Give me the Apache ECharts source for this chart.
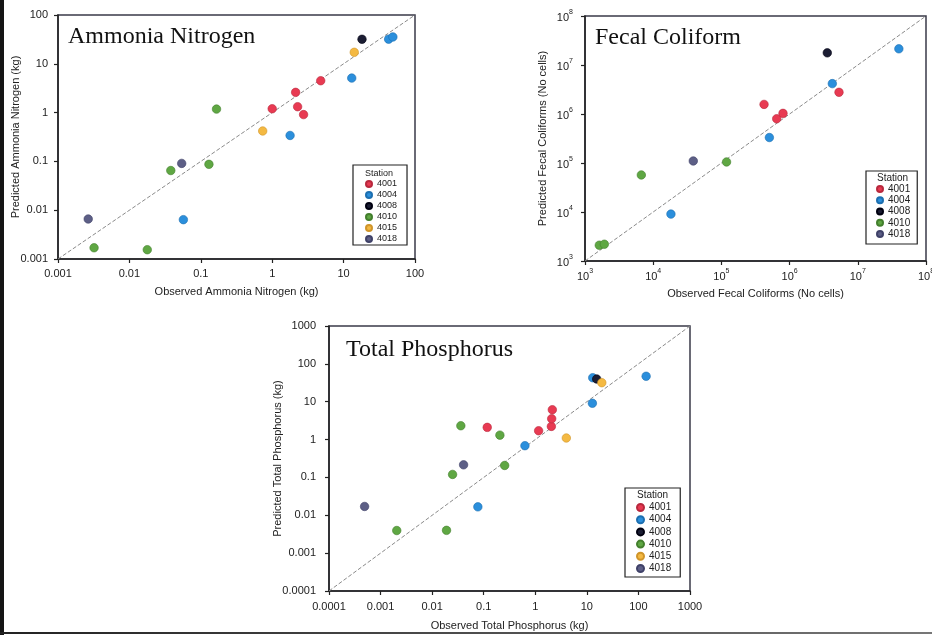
<!DOCTYPE html>
<html>
<head>
<meta charset="utf-8">
<script src="https://cdn.jsdelivr.net/npm/echarts@6/dist/echarts.min.js"></script>
<style>
  html, body { margin: 0; padding: 0; background: #ffffff; }
  #wrap { position: relative; width: 932px; height: 635px; overflow: hidden; }
  #chart { position: absolute; left: 0; top: 0; width: 932px; height: 635px; }
  .edge { position: absolute; pointer-events: none; }
  #edgeLeft { left: 0; top: 0; width: 4px; height: 635px; background: #151515; }
  #edgeBottom { left: 0; top: 632px; width: 932px; height: 2px; background: linear-gradient(to right, #222, #777); }
</style>
</head>
<body>
<div id="wrap">
  <div id="chart"></div>
  <div class="edge" id="edgeLeft"></div>
  <div class="edge" id="edgeBottom"></div>
</div>
<script>
// Stations and their marker colours
const stations = ['4001', '4004', '4008', '4010', '4015', '4018'];
const stationColors = ['#e83a52', '#2b8fdc', '#1b1d33', '#5fa743', '#f4b942', '#5d5f86'];
const stationEdges  = ['#b8283d', '#1c6fb0', '#000010', '#437f2d', '#d0952a', '#3f4168'];

// Ammonia Nitrogen (kg): [observed, predicted]
const ammonia4001 = [[1.0, 1.2], [2.13, 2.6], [2.27, 1.32], [2.75, 0.91], [4.78, 4.5]];
const ammonia4004 = [[0.057, 0.0064], [1.78, 0.34], [13, 5.1], [42.7, 32], [49, 35.5]];
const ammonia4008 = [[18.1, 31.8]];
const ammonia4010 = [[0.0032, 0.0017], [0.0178, 0.00155], [0.038, 0.065], [0.13, 0.087], [0.166, 1.18]];
const ammonia4015 = [[0.736, 0.42], [14.1, 17.2]];
const ammonia4018 = [[0.00265, 0.0066], [0.054, 0.091]];

// Fecal coliforms (No cells): [observed, predicted]
const fecal4001 = [[4.22e5, 1.57e6], [6.47e5, 8.0e5], [8.0e5, 1.03e6], [5.3e6, 2.77e6]];
const fecal4004 = [[1.82e4, 9.06e3], [5.05e5, 3.31e5], [4.23e6, 4.17e6], [4.0e7, 2.14e7]];
const fecal4008 = [[3.57e6, 1.77e7]];
const fecal4010 = [[1.62e3, 2.1e3], [1.92e3, 2.2e3], [6.7e3, 5.7e4], [1.19e5, 1.05e5]];
const fecal4018 = [[3.87e4, 1.1e5]];

// Total Phosphorus (kg): [observed, predicted]
const phos4001 = [[0.117, 2.1], [1.16, 1.71], [2.05, 2.23], [2.08, 3.55], [2.14, 6.14]];
const phos4004 = [[0.077, 0.0167], [0.63, 0.69], [12.8, 9.1], [13, 43], [141, 47]];
const phos4008 = [[15.5, 39.8]];
const phos4010 = [[0.00206, 0.00396], [0.019, 0.004], [0.0249, 0.12], [0.036, 2.32], [0.206, 1.31], [0.255, 0.207]];
const phos4015 = [[4.0, 1.1], [19.5, 31.8]];
const phos4018 = [[0.00049, 0.0171], [0.0407, 0.215]];

// Tick labels per decade
const ammoniaTicks = ['0.001', '0.01', '0.1', '1', '10', '100'];
const fecalExponents = ['3', '4', '5', '6', '7', '8'];
const phosTicks = ['0.0001', '0.001', '0.01', '0.1', '1', '10', '100', '1000'];

// Axis texts and panel titles
const panelTitles = ['Ammonia Nitrogen', 'Fecal Coliform', 'Total Phosphorus'];
const xNames = ['Observed Ammonia Nitrogen (kg)', 'Observed Fecal Coliforms (No cells)', 'Observed Total Phosphorus (kg)'];
const yNames = ['Predicted Ammonia Nitrogen (kg)', 'Predicted Fecal Coliforms (No cells)', 'Predicted Total Phosphorus (kg)'];

const panelData = [
  { '4001': ammonia4001, '4004': ammonia4004, '4008': ammonia4008, '4010': ammonia4010, '4015': ammonia4015, '4018': ammonia4018 },
  { '4001': fecal4001, '4004': fecal4004, '4008': fecal4008, '4010': fecal4010, '4018': fecal4018 },
  { '4001': phos4001, '4004': phos4004, '4008': phos4008, '4010': phos4010, '4015': phos4015, '4018': phos4018 }
];
const legendStations = [
  stations,
  ['4001', '4004', '4008', '4010', '4018'],
  stations
];

const FONT = 'Liberation Sans, Arial, sans-serif';
const SERIF = 'Liberation Serif, Times New Roman, serif';

const panels = [
  { grid: { left: 58, top: 15, width: 357, height: 244 }, min: 0.001, max: 100, ticks: ammoniaTicks, minExp: -3,
    xMargin: 9, yMargin: 10, xGap: 27, yGap: 37,
    title: { left: 68, top: 25 },
    legend: { left: 353, top: 165, padding: [14, 10, 1, 12], fontSize: 9, lineHeight: 10, gap: 1, icon: 6 },
    station: { left: 365, top: 169, fontSize: 9 } },
  { grid: { left: 585, top: 16, width: 341, height: 245 }, min: 1e3, max: 1e8, ticks: null, minExp: 3,
    xMargin: 7, yMargin: 12, xGap: 27, yGap: 37,
    title: { left: 595, top: 26 },
    legend: { left: 866, top: 171, padding: [13, 7, 5, 10], fontSize: 10, lineHeight: 10, gap: 1.25, icon: 6 },
    station: { left: 877, top: 173, fontSize: 10 } },
  { grid: { left: 329, top: 326, width: 361, height: 265 }, min: 1e-4, max: 1000, ticks: phosTicks, minExp: -4,
    xMargin: 10, yMargin: 13, xGap: 29, yGap: 46,
    title: { left: 346, top: 338 },
    legend: { left: 625, top: 488, padding: [14, 9, 3, 11], fontSize: 10, lineHeight: 11, gap: 1.2, icon: 7 },
    station: { left: 637, top: 490, fontSize: 10 } }
];

function decadeLabel(p) {
  return function (v) {
    const e = Math.round(Math.log10(v));
    if (p.ticks) return p.ticks[e - p.minExp] || '';
    const s = fecalExponents[e - p.minExp];
    return s ? '{b|10}{s|' + s + '}' : '';
  };
}
const supRich = {
  b: { fontSize: 11, fontFamily: FONT, color: '#222', lineHeight: 14, verticalAlign: 'bottom' },
  s: { fontSize: 7, fontFamily: FONT, color: '#222', lineHeight: 14, verticalAlign: 'top', padding: [0, 0, 4, 0] }
};

function makeAxis(p, isX) {
  const idx = panels.indexOf(p);
  return {
    type: 'log', logBase: 10, gridIndex: idx,
    min: p.min, max: p.max,
    splitNumber: Math.round(Math.log10(p.max / p.min)),
    name: isX ? xNames[idx] : yNames[idx],
    nameLocation: 'middle',
    nameGap: isX ? p.xGap : p.yGap,
    nameMoveOverlap: false,
    nameTextStyle: { fontFamily: FONT, fontSize: 11, color: '#222' },
    axisLine: { show: true, lineStyle: { color: '#222', width: 1.5 } },
    axisTick: { show: true, inside: false, length: 4, lineStyle: { color: '#222', width: 1.2 } },
    minorTick: { show: false },
    splitLine: { show: false },
    axisLabel: {
      show: true, showMinLabel: true, showMaxLabel: true, hideOverlap: false,
      margin: isX ? p.xMargin : p.yMargin,
      fontFamily: FONT, fontSize: 11, color: '#222',
      formatter: decadeLabel(p),
      rich: p.ticks ? undefined : supRich
    }
  };
}

const series = [];
panels.forEach(function (p, i) {
  // 1:1 reference line
  series.push({
    type: 'line', xAxisIndex: i, yAxisIndex: i, silent: true, symbol: 'none', z: 2,
    data: [[p.min, p.min], [p.max, p.max]],
    lineStyle: { color: '#8a8a8a', width: 1, type: [4, 2] }
  });
  stations.forEach(function (s, k) {
    const d = panelData[i][s];
    if (!d) return;
    series.push({
      type: 'scatter', name: s, xAxisIndex: i, yAxisIndex: i, z: 3,
      symbol: 'circle', symbolSize: 8.5, data: d,
      itemStyle: { color: stationColors[k], borderColor: stationEdges[k], borderWidth: 0.6, opacity: 1 }
    });
  });
});

const option = {
  animation: false,
  backgroundColor: '#ffffff',
  grid: panels.map(p => Object.assign({
    show: true, borderColor: '#3a3a48', borderWidth: 1.5, backgroundColor: 'transparent',
    containLabel: false, outerBoundsMode: 'none'
  }, p.grid)),
  xAxis: panels.map(p => makeAxis(p, true)),
  yAxis: panels.map(p => makeAxis(p, false)),
  title: panels.map((p, i) => ({
    text: panelTitles[i], left: p.title.left, top: p.title.top, padding: 0,
    textStyle: { fontFamily: SERIF, fontSize: 24, fontWeight: 'normal', color: '#111' }
  })).concat(panels.map(p => ({
    text: 'Station', left: p.station.left, top: p.station.top, padding: 0,
    textStyle: { fontFamily: FONT, fontSize: p.station.fontSize, fontWeight: 'normal', color: '#222' }
  }))),
  legend: panels.map((p, i) => ({
    data: legendStations[i], orient: 'vertical', left: p.legend.left, top: p.legend.top,
    padding: p.legend.padding, itemGap: p.legend.gap,
    itemWidth: p.legend.icon, itemHeight: p.legend.icon, icon: 'circle',
    borderColor: '#222', borderWidth: 1.2, backgroundColor: '#ffffff',
    selectedMode: false,
    textStyle: { fontFamily: FONT, fontSize: p.legend.fontSize, lineHeight: p.legend.lineHeight, color: '#222' }
  })),
  series: series
};

const chart = echarts.init(document.getElementById('chart'), null, { renderer: 'canvas' });
chart.setOption(option);
</script>
</body>
</html>
